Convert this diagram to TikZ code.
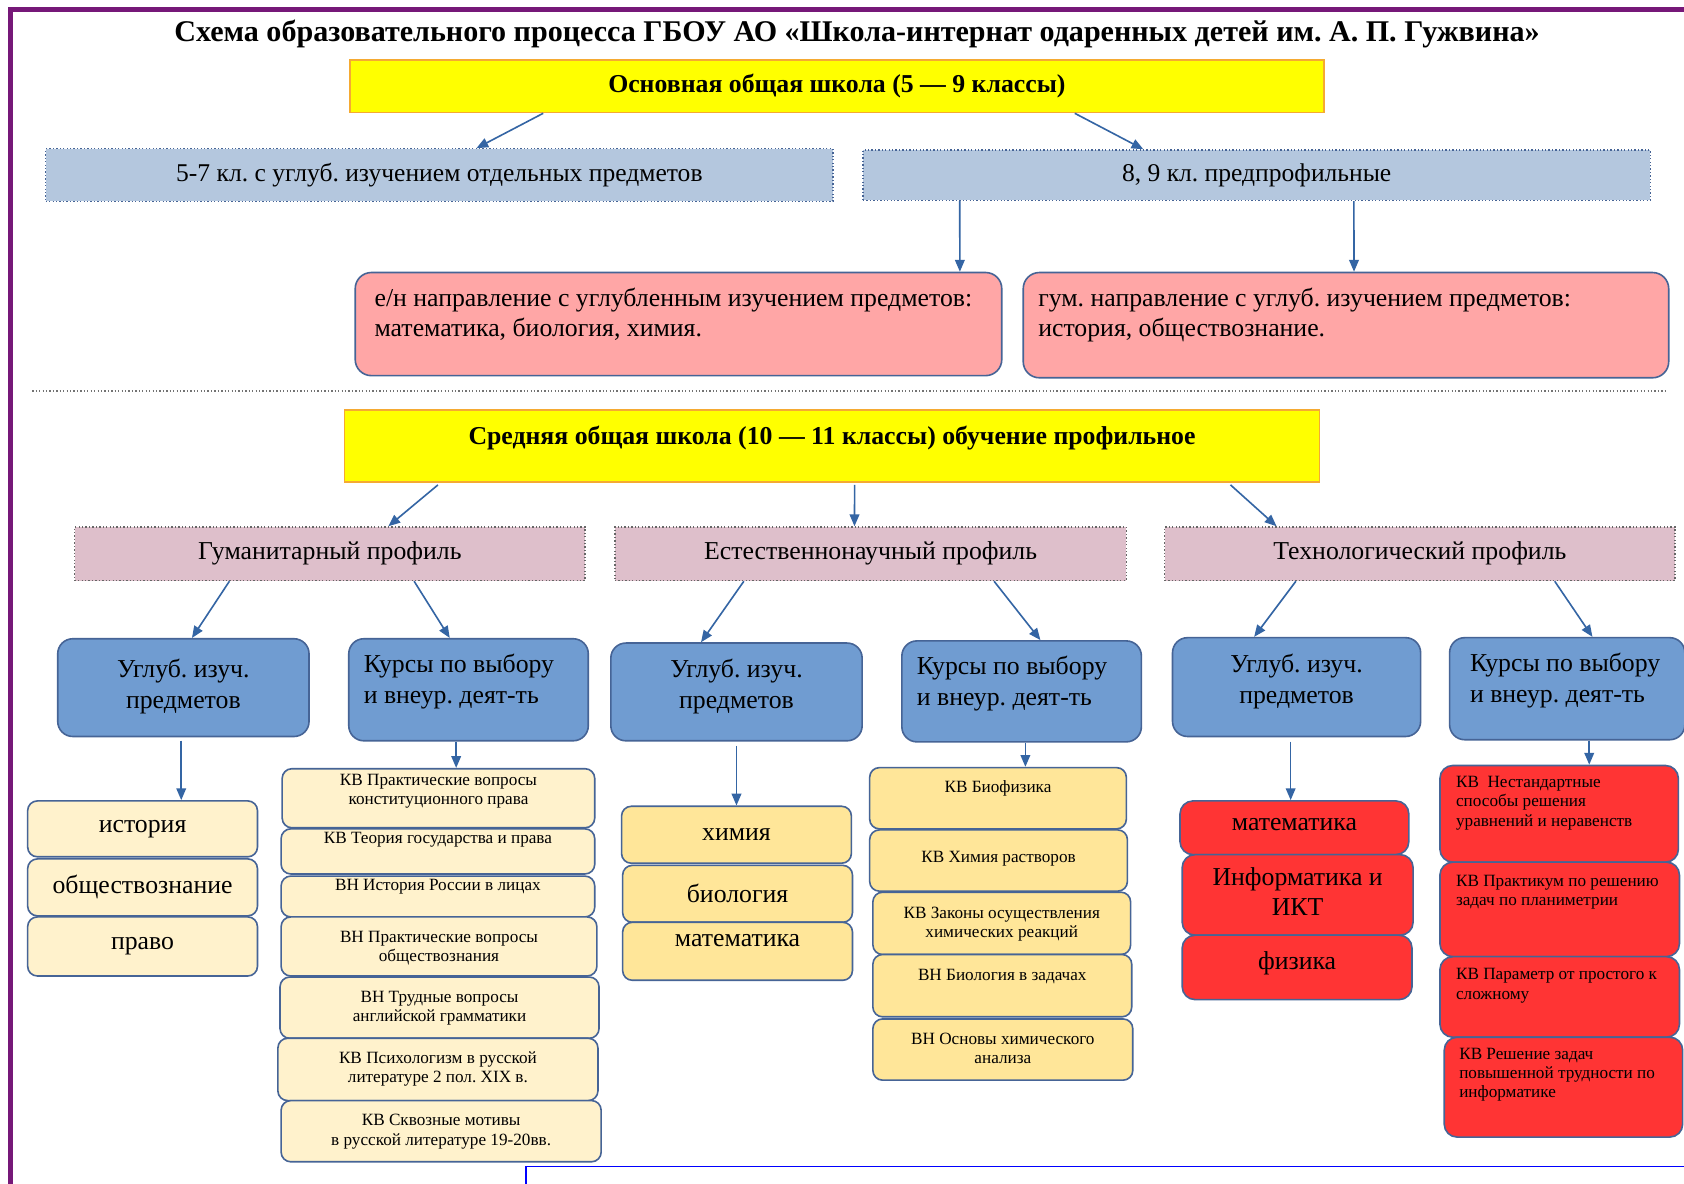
\documentclass[tikz,border=0pt]{standalone}
\usepackage{fontspec}
\setmainfont{Liberation Serif}
\usetikzlibrary{arrows.meta}

\definecolor{framepurple}{RGB}{118,24,120}
\definecolor{arrowblue}{RGB}{52,101,164}
\definecolor{edgeblue}{RGB}{70,100,150}
\definecolor{schoolyellow}{RGB}{255,255,0}
\definecolor{schoolorange}{RGB}{245,170,50}
\definecolor{gradeblue}{RGB}{180,199,222}
\definecolor{dirpink}{RGB}{255,166,166}
\definecolor{profmauve}{RGB}{222,191,203}
\definecolor{coursblue}{RGB}{112,156,209}
\definecolor{creamlight}{RGB}{255,242,204}
\definecolor{creamdark}{RGB}{255,230,153}
\definecolor{techred}{RGB}{255,52,52}

% text block pinned to the top of a box
\newcommand{\cell}[5]{\parbox[c][#3pt][t]{#2pt}{#1\relax\vspace*{#4pt}\strut #5}}

\begin{document}
\frenchspacing
\begin{tikzpicture}[x=1pt,y=-1pt,
  plain/.style={anchor=north west, inner sep=0pt, align=center},
  celln/.style={anchor=north west, inner sep=0pt},
  yellowbox/.style={fill=schoolyellow, draw=schoolorange, line width=1.5pt,
    font=\bfseries\fontsize{24}{28}\selectfont},
  gradebox/.style={fill=gradeblue, draw=edgeblue, dotted, line width=1.2pt,
    font=\fontsize{23.8}{28}\selectfont},
  dirbox/.style={fill=dirpink, draw=edgeblue, rounded corners=15pt, line width=1.5pt,
    font=\fontsize{24}{28}\selectfont},
  profbox/.style={fill=profmauve, draw=black!60, dotted, line width=1.2pt,
    font=\fontsize{24}{28}\selectfont},
  bluebox/.style={fill=coursblue, draw=edgeblue, rounded corners=14pt, line width=1.5pt,
    font=\fontsize{24}{29}\selectfont},
  bigitem/.style={draw=edgeblue, rounded corners=9pt, line width=1.5pt,
    font=\fontsize{24}{28}\selectfont},
  smallitem/.style={draw=edgeblue, rounded corners=9pt, line width=1.5pt,
    font=\fontsize{16}{18}\selectfont},
  reditem/.style={fill=techred, draw=edgeblue, rounded corners=12pt, line width=1.5pt},
  arr/.style={draw=arrowblue, line width=1.5pt, -{Triangle[length=11pt,width=9pt]}}]

\useasboundingbox (0,0) rectangle (1568,1102.4);
\fill[white] (0,0) rectangle (1568,1102.4);

% frame
\draw[framepurple, line width=5pt] (10,1102.4) -- (10,9) -- (1568,9);
\draw[blue, line width=1.5pt] (490,1102.4) -- (490,1086) -- (1568,1086);

\node[font=\bfseries\fontsize{28}{32}\selectfont] (title) at (798,32)
  {Схема образовательного процесса ГБОУ АО «Школа-интернат одаренных детей им. А. П. Гужвина»};

% basic school
\node[plain, yellowbox, minimum width=907pt, minimum height=49pt] (basic) at (325,55)
  {Основная общая школа (5 — 9 классы)};
\node[plain, gradebox, minimum width=733pt, minimum height=49pt] (g57) at (42,138)
  {5-7 кл. с углуб. изучением отдельных предметов};
\node[plain, gradebox, minimum width=733pt, minimum height=47pt] (g89) at (803,139)
  {8, 9 кл. предпрофильные};
\node[celln, dirbox] (dirnat) at (330,253)
  {\cell{\raggedright\leftskip=18pt}{602}{96}{12}{е/н направление с углубленным изучением предметов:\\математика, биология, химия.}};
\node[celln, dirbox] (dirhum) at (952,253)
  {\cell{\raggedright\leftskip=14pt}{601}{98}{12}{гум. направление с углуб. изучением предметов:\\история, обществознание.}};

\draw[black!55, dotted, line width=1.2pt] (30,364) -- (1553,364);

% secondary school
\node[celln, yellowbox] (second) at (320,381)
  {\cell{\centering}{908}{67}{12.5}{Средняя общая школа (10 — 11 классы) обучение профильное}};
\node[plain, profbox, minimum width=475pt, minimum height=50pt] (phum) at (69,490) {Гуманитарный профиль};
\node[plain, profbox, minimum width=476pt, minimum height=50pt] (pnat) at (572,490) {Естественнонаучный профиль};
\node[plain, profbox, minimum width=475pt, minimum height=50pt] (ptech) at (1084,490) {Технологический профиль};

\node[celln, bluebox] (hdeep) at (53,594) {\cell{\centering}{234}{91}{16}{Углуб. изуч.\\предметов}};
\node[celln, bluebox] (hcour) at (324,594) {\cell{\raggedright\leftskip=14pt}{223}{95}{11}{Курсы по выбору\\и внеур. деят-ть}};
\node[celln, bluebox] (ndeep) at (568,598) {\cell{\centering}{234}{91}{12}{Углуб. изуч.\\предметов}};
\node[celln, bluebox] (ncour) at (839,596) {\cell{\raggedright\leftskip=14pt}{223}{94}{11}{Курсы по выбору\\и внеур. деят-ть}};
\node[celln, bluebox] (tdeep) at (1091,593) {\cell{\centering}{231}{92}{12}{Углуб. изуч.\\предметов}};
\node[celln, bluebox] (tcour) at (1349,593) {\cell{\raggedright\leftskip=19pt}{219}{95}{11}{Курсы по выбору\\и внеур. деят-ть}};

% humanities
\node[plain, bigitem, fill=creamlight, minimum width=214pt, minimum height=52pt] (hd1) at (25,745) {история};
\node[plain, bigitem, fill=creamlight, minimum width=214pt, minimum height=53pt] (hd2) at (25,799) {обществознание};
\node[plain, bigitem, fill=creamlight, minimum width=214pt, minimum height=55pt] (hd3) at (25,853) {право};

\node[celln, smallitem, fill=creamlight] (hc1) at (262,715) {\cell{\centering}{291}{55}{3}{КВ Практические вопросы\\конституционного права}};
\node[celln, smallitem, fill=creamlight] (hc2) at (261,771) {\cell{\centering}{292}{42}{1}{КВ Теория государства и права}};
\node[celln, smallitem, fill=creamlight] (hc3) at (261,815) {\cell{\centering}{292}{38}{1}{ВН История России в лицах}};
\node[celln, smallitem, fill=creamlight] (hc4) at (261,853) {\cell{\centering}{294}{55}{11}{ВН Практические вопросы\\обществознания}};
\node[celln, smallitem, fill=creamlight] (hc5) at (260,909) {\cell{\centering}{297}{57}{11}{ВН Трудные вопросы\\английской грамматики}};
\node[celln, smallitem, fill=creamlight] (hc6) at (258,966) {\cell{\centering}{298}{58}{11}{КВ Психологизм в русской\\литературе 2 пол. XIX в.}};
\node[celln, smallitem, fill=creamlight] (hc7) at (261,1024) {\cell{\centering}{298}{57}{11}{КВ Сквозные мотивы\\в русской литературе 19-20вв.}};

% natural science
\node[plain, bigitem, fill=creamdark, minimum width=214pt, minimum height=53pt] (nd1) at (578,750) {химия};
\node[plain, bigitem, fill=creamdark, minimum width=214pt, minimum height=53pt] (nd2) at (579,805) {биология};
\node[celln, bigitem, fill=creamdark] (nd3) at (579,858) {\cell{\centering}{214}{54}{3}{математика}};

\node[celln, smallitem, fill=creamdark] (nc1) at (809,714) {\cell{\centering}{239}{57}{11}{КВ Биофизика}};
\node[celln, smallitem, fill=creamdark] (nc2) at (809,772) {\cell{\centering}{240}{57}{18}{КВ Химия растворов}};
\node[celln, smallitem, fill=creamdark] (nc3) at (812,830) {\cell{\centering}{240}{58}{12}{КВ Законы осуществления\\химических реакций}};
\node[celln, smallitem, fill=creamdark] (nc4) at (812,888) {\cell{\centering}{241}{58}{12}{ВН Биология в задачах}};
\node[celln, smallitem, fill=creamdark] (nc5) at (812,948) {\cell{\centering}{242}{57}{11}{ВН Основы химического\\анализа}};

% technology
\node[celln, reditem, font=\fontsize{24}{28}\selectfont] (td1) at (1098,745) {\cell{\centering}{213}{50}{7.5}{математика}};
\node[celln, reditem, font=\fontsize{24}{28}\selectfont] (td2) at (1100,795) {\cell{\centering}{215}{75}{9.5}{Информатика и\\ИКТ}};
\node[celln, reditem, font=\fontsize{24}{28}\selectfont] (td3) at (1100,870) {\cell{\centering}{214}{60}{12.5}{физика}};

\node[celln, reditem, font=\fontsize{16}{18}\selectfont] (tc1) at (1340,712) {\cell{\raggedright\leftskip=15pt}{222}{90}{8}{КВ~ Нестандартные\\способы решения\\уравнений и неравенств}};
\node[celln, reditem, font=\fontsize{16}{18}\selectfont] (tc2) at (1340,802) {\cell{\raggedright\leftskip=15pt}{223}{88}{10}{КВ Практикум по решению\\задач по планиметрии}};
\node[celln, reditem, font=\fontsize{16}{18}\selectfont] (tc3) at (1340,890) {\cell{\raggedright\leftskip=15pt}{223}{75}{9}{КВ Параметр от простого к\\сложному}};
\node[celln, reditem, font=\fontsize{16}{18}\selectfont] (tc4) at (1344,965) {\cell{\raggedright\leftskip=14pt}{222}{93}{8}{КВ Решение задач\\повышенной трудности по\\информатике}};

% arrows
\draw[arr] ([xshift=-273.5pt]basic.south) -- ([xshift=34.5pt]g57.north);
\draw[arr] ([xshift=221.5pt]basic.south) -- ([xshift=-105.5pt]g89.north);
\draw[arr] ([xshift=-276.5pt]g89.south) -- ([xshift=262pt]dirnat.north);
\draw[arr] ([xshift=90.5pt]g89.south) -- ([xshift=7.5pt]dirhum.north);

\draw[arr] ([xshift=-367pt,yshift=-2pt]second.south) -- ([xshift=54.5pt]phum.north);
\draw[arr] ([xshift=21pt,yshift=-2pt]second.south) -- ([xshift=-15pt]pnat.north);
\draw[arr] ([xshift=371pt,yshift=-2pt]second.south) -- ([xshift=-133.5pt]ptech.north);

\draw[arr] ([xshift=-93.5pt]phum.south) -- ([xshift=8pt]hdeep.north);
\draw[arr] ([xshift=78.5pt]phum.south) -- ([xshift=-17.5pt]hcour.north);
\draw[arr] ([xshift=-118pt]pnat.south) -- ([xshift=-33pt]ndeep.north);
\draw[arr] ([xshift=115pt]pnat.south) -- ([xshift=17.5pt]ncour.north);
\draw[arr] ([xshift=-115.5pt]ptech.south) -- ([xshift=-39.5pt]tdeep.north);
\draw[arr] ([xshift=125.5pt]ptech.south) -- ([xshift=23.5pt]tcour.north);

\draw[arr] ([xshift=-2pt,yshift=-3pt]hdeep.south) -- ([xshift=36pt]hd1.north);
\draw[arr] ([xshift=-11.5pt]hcour.south) -- ([xshift=16.5pt]hc1.north);
\draw[arr] ([yshift=-4pt]ndeep.south) -- (nd1.north);
\draw[arr] ([xshift=3.5pt]ncour.south) -- ([xshift=25.5pt]nc1.north);
\draw[arr] ([xshift=-5.5pt,yshift=-4pt]tdeep.south) -- ([xshift=-3.5pt]td1.north);
\draw[arr] ([xshift=20.5pt]tcour.south) -- ([xshift=28pt]tc1.north);

\end{tikzpicture}
\end{document}
